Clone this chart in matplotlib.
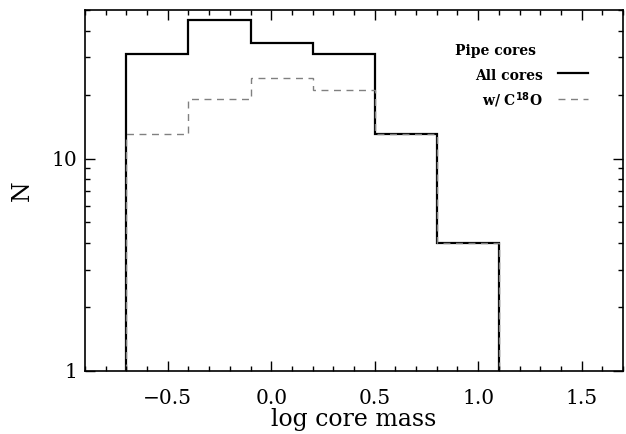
import matplotlib
matplotlib.use("Agg")
import matplotlib.pyplot as plt
from matplotlib.ticker import MultipleLocator, NullFormatter, LogLocator

# Histogram of core masses, Pipe nebula
bin_edges = [-0.7, -0.4, -0.1, 0.2, 0.5, 0.8, 1.1]
all_cores = [31, 45, 35, 31, 13, 4]
c18o_cores = [13, 19, 24, 21, 13, 4]

y_ticks = [1, 10]
y_labels = ["1", "10"]

plt.rcParams["font.family"] = ["DejaVu Serif"]

fig = plt.figure(figsize=(6.26, 4.34), dpi=100)
ax = fig.add_axes([0.1358, 0.1452, 0.8594, 0.8318])

ax.stairs(all_cores, bin_edges, baseline=1, color="black", lw=1.6)
ax.stairs(c18o_cores, bin_edges, baseline=1, color="#808080", lw=1.0,
          linestyle=(0, (5, 4)))

ax.set_yscale("log")
ax.set_xlim(-0.9, 1.7)
ax.set_ylim(1, 50)

ax.xaxis.set_major_locator(MultipleLocator(0.5))
ax.xaxis.set_minor_locator(MultipleLocator(0.1))
ax.set_yticks(y_ticks, y_labels)
ax.yaxis.set_minor_locator(LogLocator(base=10, subs=range(2, 10)))
ax.yaxis.set_minor_formatter(NullFormatter())

ax.tick_params(which="both", direction="in", top=True, right=True,
               labelsize=14.5, width=1)
ax.tick_params(which="major", length=7)
ax.tick_params(which="minor", length=3.5)
ax.tick_params(axis="x", which="both", pad=13)
ax.tick_params(axis="y", which="both", pad=5.5)
for s in ax.spines.values():
    s.set_linewidth(1.2)

ax.set_xlabel("log core mass", fontsize=17, labelpad=0)
ax.set_ylabel("N", fontsize=17, labelpad=13)

# legend drawn by hand
ax.text(0.688, 0.886, "Pipe cores", transform=ax.transAxes, fontsize=10,
        fontweight="bold", ha="left", va="center")
ax.text(0.851, 0.818, "All cores", transform=ax.transAxes, fontsize=10,
        fontweight="bold", ha="right", va="center")
ax.text(0.851, 0.751, r"w/ C$^{\mathbf{18}}$O", transform=ax.transAxes,
        fontsize=10, fontweight="bold", ha="right", va="center")
ax.plot([0.880, 0.935], [0.825, 0.825], color="black", lw=1.6,
        transform=ax.transAxes)
ax.plot([0.880, 0.935], [0.753, 0.753], color="#808080", lw=1.0,
        linestyle=(0, (5, 4)), transform=ax.transAxes)

fig.savefig("out.png", dpi=100)
